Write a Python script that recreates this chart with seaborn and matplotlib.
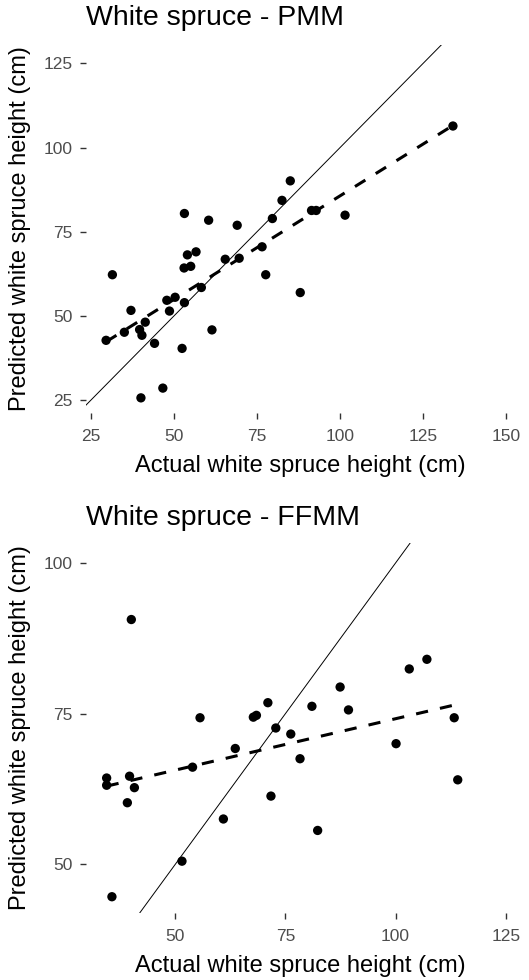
import numpy as np
import pandas as pd
import matplotlib
matplotlib.use("Agg")
import matplotlib.pyplot as plt
import seaborn as sns

# PMM panel: actual vs predicted heights (cm)
pmm_actual = [29.5, 31.4, 35.0, 37.0, 39.6, 40.3, 41.3, 44.1, 40.0, 46.6,
              47.8, 48.6, 50.3, 52.4, 53.1, 53.1, 53.0, 54.0, 55.0, 56.6,
              58.2, 60.4, 61.4, 65.4, 69.0, 69.6, 76.5, 77.6, 79.6, 82.5,
              85.0, 88.0, 91.4, 92.8, 101.5, 134.0]
pmm_pred = [42.7, 62.2, 45.1, 51.6, 45.9, 44.2, 48.1, 41.8, 25.6, 28.5,
            54.6, 51.4, 55.5, 40.3, 53.9, 80.4, 64.2, 68.1, 64.7, 69.0,
            58.4, 78.4, 45.8, 66.8, 76.9, 67.1, 70.5, 62.2, 78.9, 84.3,
            90.1, 56.9, 81.3, 81.3, 79.9, 106.4]

# FFMM panel
ffmm_actual = [34.4, 34.4, 35.6, 39.1, 39.6, 40.0, 40.7, 51.5, 53.9, 55.6,
               60.9, 63.6, 67.7, 68.4, 71.0, 72.8, 71.7, 76.2, 78.3, 81.0,
               82.3, 87.4, 89.3, 100.1, 103.1, 107.1, 113.3, 114.1]
ffmm_pred = [64.3, 63.1, 44.6, 60.2, 64.6, 90.6, 62.7, 50.5, 66.1, 74.3,
             57.5, 69.2, 74.4, 74.7, 76.8, 72.6, 61.3, 71.6, 67.5, 76.2,
             55.6, 79.4, 75.6, 70.0, 82.4, 84.0, 74.3, 64.0]

titles = ["White spruce - PMM", "White spruce - FFMM"]
xlabel = "Actual white spruce height (cm)"
ylabel = "Predicted white spruce height (cm)"

sns.set_style("white")
plt.rcParams["font.family"] = ["Liberation Sans", "DejaVu Sans"]

W, H = 529, 980
fig = plt.figure(figsize=(W / 100, H / 100), dpi=100)

# box = (left, top, right, bottom) of each panel in pixels, title_y = title centre
panels = [
    dict(x=pmm_actual, y=pmm_pred, box=(85.5, 44.6, 515, 413), title_y=18,
         xlim=(23.3, 152.7), ylim=(21.1, 130.6),
         xticks=[25, 50, 75, 100, 125, 150], yticks=[25, 50, 75, 100, 125]),
    dict(x=ffmm_actual, y=ffmm_pred, box=(85.5, 543, 515, 913), title_y=518,
         xlim=(29.6, 127.1), ylim=(41.9, 103.3),
         xticks=[50, 75, 100, 125], yticks=[50, 75, 100]),
]

for p, title in zip(panels, titles):
    l, t, r, b = p["box"]
    ax = fig.add_axes([l / W, 1 - b / H, (r - l) / W, (b - t) / H])
    df = pd.DataFrame({"actual": p["x"], "predicted": p["y"]})

    # 1:1 reference line
    ax.axline((0, 0), slope=1, color="black", lw=0.7, zorder=1)
    sns.scatterplot(data=df, x="actual", y="predicted", ax=ax, color="black",
                    s=45, edgecolor="none", zorder=3)
    # linear fit, dashed
    sns.regplot(data=df, x="actual", y="predicted", ax=ax, scatter=False,
                ci=None, truncate=True, color="black",
                line_kws=dict(lw=2.2, linestyle=(0, (4, 4)), zorder=2))

    ax.set_xlim(*p["xlim"])
    ax.set_ylim(*p["ylim"])
    ax.set_xticks(p["xticks"])
    ax.set_yticks(p["yticks"])
    ax.tick_params(bottom=True, left=True, length=4.5, width=1, color="#333333",
                   labelcolor="#4D4D4D", labelsize=12.5)
    ax.tick_params(axis="x", pad=7)
    ax.tick_params(axis="y", pad=4.5)
    sns.despine(ax=ax, left=True, bottom=True)
    ax.set_xlabel(xlabel, fontsize=17, color="black", labelpad=8)
    ax.set_ylabel(ylabel, fontsize=17, color="black", labelpad=9)
    ax.text(0.0, 1 + (t - p["title_y"]) / (b - t), title,
            transform=ax.transAxes, fontsize=20.5, color="black",
            ha="left", va="center")

fig.savefig("out.png", dpi=100)
